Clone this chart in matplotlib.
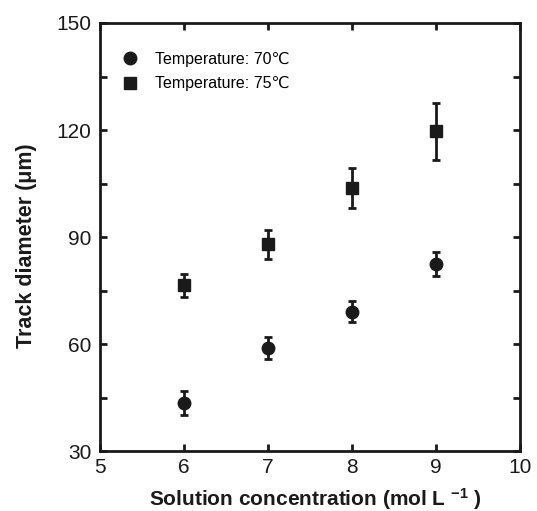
import matplotlib
matplotlib.use("Agg")
import matplotlib.pyplot as plt
from matplotlib.ticker import MultipleLocator

plt.rcParams['font.family'] = ['Liberation Sans', 'DejaVu Sans']
plt.rcParams['mathtext.fontset'] = 'custom'
plt.rcParams['mathtext.rm'] = 'Liberation Sans'
plt.rcParams['mathtext.bf'] = 'Liberation Sans:bold'
plt.rcParams['mathtext.default'] = 'bf'

conc = [6, 7, 8, 9]
d70 = [43.5, 59.0, 69.1, 82.4]
e70 = [3.3, 3.1, 3.0, 3.3]
d75 = [76.5, 88.0, 103.7, 119.7]
e75 = [3.2, 4.0, 5.6, 8.0]
labels = ['Temperature: 70\u2103', 'Temperature: 75\u2103']

fig = plt.figure(figsize=(5.37, 5.11), dpi=100)
ax = fig.add_axes([0.186, 0.117, 0.782, 0.838])

ax.errorbar(conc, d70, yerr=e70, fmt='o', color='#1a1a1a', ms=9, elinewidth=2,
            capsize=3, capthick=2, label=labels[0])
ax.errorbar(conc, d75, yerr=e75, fmt='s', color='#1a1a1a', ms=9, elinewidth=2,
            capsize=3, capthick=2, label=labels[1])

ax.set_xlim(5, 10)
ax.set_ylim(30, 150)
ax.xaxis.set_major_locator(MultipleLocator(1))
ax.yaxis.set_major_locator(MultipleLocator(30))
ax.yaxis.set_minor_locator(MultipleLocator(15))
ax.tick_params(which='both', direction='in', top=True, right=True, length=5, width=2,
               labelsize=15, colors='#1a1a1a')
ax.tick_params(axis='x', pad=5)
ax.tick_params(axis='y', pad=6)
for s in ax.spines.values():
    s.set_linewidth(2)
    s.set_color('#1a1a1a')

ax.set_xlabel('Solution concentration (mol L $^{-1}$ )', fontsize=15, fontweight='bold',
              color='#1a1a1a')
ax.xaxis.set_label_coords(0.513, -0.081, transform=ax.transAxes)
ax.xaxis.label.set_verticalalignment('top')
ax.set_ylabel('Track diameter (\u03bcm)', fontsize=15.5, fontweight='bold',
              color='#1a1a1a')
ax.yaxis.set_label_coords(-0.15, 0.48, transform=ax.transAxes)

handles, labs = ax.get_legend_handles_labels()
handles = [h[0] for h in handles]
ax.legend(handles, labs, loc='upper left', frameon=False, fontsize=11.5,
          handletextpad=1.0, borderaxespad=0.6, labelspacing=0.6, handlelength=1.2,
          bbox_to_anchor=(0.01, 0.97))

fig.savefig('out.png', dpi=100)
